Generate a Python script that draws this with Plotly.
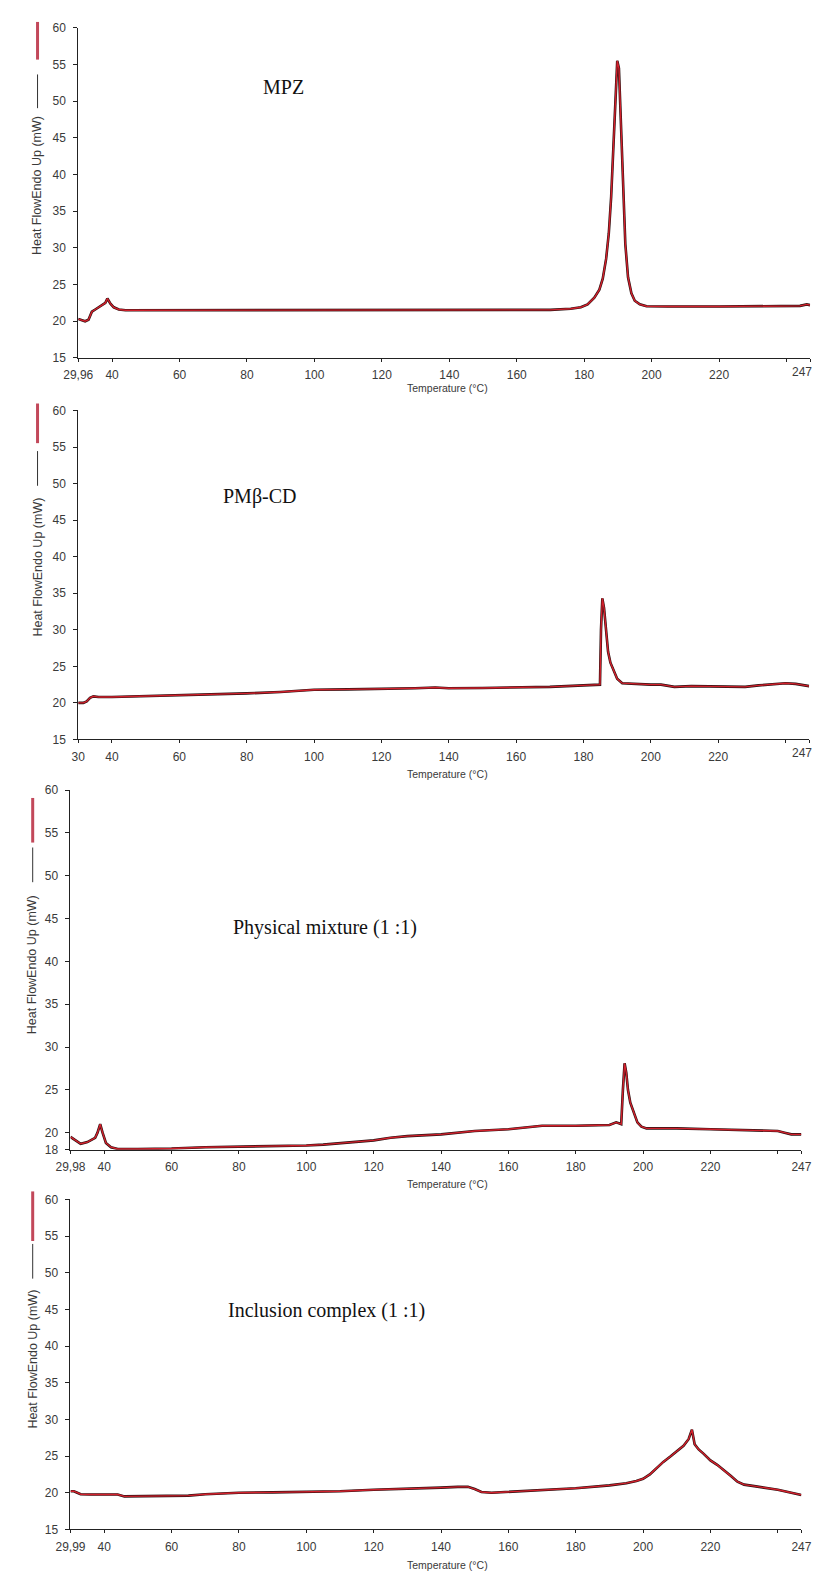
import plotly.graph_objects as go

# page is 824x1579; the browser's default 8px body margin offsets the figure
PAGE_W, PAGE_H = 824, 1579
OFF = 8
W, H = PAGE_W - OFF, PAGE_H - OFF

# ---------------- data ----------------
mpz_T = [29.96, 31, 32, 33, 34, 35, 36, 37, 38, 38.6, 39.5, 40.5, 42, 44, 60, 80, 100, 120, 140, 160, 170,
         176, 179, 181, 183, 184.5, 185.5, 186.5, 187.3, 188, 188.7, 189.3, 189.8, 190.3, 190.9, 191.5,
         192.2, 193, 194, 195, 196.5, 198.5, 205, 220, 240, 244, 246, 247]
mpz_V = [20.3, 20.2, 20.0, 20.2, 21.3, 21.6, 21.9, 22.2, 22.5, 23.1, 22.4, 21.9, 21.6, 21.5, 21.5, 21.5,
         21.5, 21.5, 21.5, 21.5, 21.55, 21.7, 21.9, 22.3, 23.2, 24.3, 25.8, 28.5, 32, 37, 44, 51, 55.5,
         54.5, 47, 38, 30.5, 26, 23.8, 22.8, 22.3, 22.05, 22.0, 22.0, 22.0, 22.1, 22.3, 22.2]

pm_T = [30, 31.5, 32.5, 33.5, 34.5, 36, 40, 50, 60, 70, 80, 90, 100, 110, 120, 130, 136, 140, 150, 160,
        170, 180, 184.9, 185.2, 185.6, 186.1, 186.7, 187.3, 188, 189, 190, 191.5, 195, 200, 203, 207,
        212, 220, 228, 232, 236, 240, 243, 247]
pm_V = [20.0, 20.0, 20.2, 20.7, 20.9, 20.8, 20.8, 20.9, 21.0, 21.1, 21.3, 21.5, 21.8, 21.85, 21.9, 22.0,
        22.1, 22.0, 22.05, 22.1, 22.2, 22.4, 22.5, 30, 34.3, 33.0, 29.5, 27.0, 25.5, 24.3, 23.3, 22.7,
        22.6, 22.5, 22.5, 22.2, 22.3, 22.2, 22.2, 22.4, 22.6, 22.7, 22.6, 22.3]

phy_T = [29.98, 31, 33, 35, 37.3, 38, 38.8, 39.5, 40.5, 42, 44, 50, 60, 70, 80, 90, 100, 105, 110, 115,
         120, 125, 130, 140, 150, 160, 165, 170, 180, 185, 190, 192, 193.5, 194.0, 194.5, 195.0, 195.5,
         196.2, 197.2, 198.3, 199.5, 201, 205, 210, 220, 225, 230, 235, 240, 242, 244, 247]
phy_V = [19.5, 19.2, 18.7, 18.9, 19.4, 20.0, 21.0, 20.0, 18.8, 18.3, 18.1, 18.1, 18.15, 18.3, 18.35,
         18.4, 18.5, 18.6, 18.75, 18.9, 19.1, 19.4, 19.6, 19.8, 20.2, 20.4, 20.6, 20.8, 20.8, 20.85,
         20.9, 21.2, 21.0, 25.0, 28.1, 27.0, 25.0, 23.5, 22.5, 21.2, 20.7, 20.5, 20.5, 20.5, 20.4,
         20.35, 20.3, 20.2, 20.2, 20.0, 19.8, 19.8]

inc_T = [29.99, 31, 32, 33, 36, 40, 44, 46, 50, 60, 65, 70, 75, 80, 90, 100, 110, 120, 130, 140, 145,
         148, 150, 152, 155, 160, 170, 180, 190, 195, 198, 200, 202, 204, 206, 208, 210, 212, 213.5,
         214.5, 215.3, 216.5, 218, 220, 222, 224, 226, 228, 230, 233, 236, 240, 243, 247]
inc_V = [20.2, 20.2, 20.0, 19.8, 19.75, 19.75, 19.75, 19.5, 19.5, 19.5, 19.6, 19.8, 19.9, 20.0, 20.05,
         20.1, 20.2, 20.4, 20.5, 20.7, 20.8, 20.8, 20.5, 20.1, 20.0, 20.1, 20.3, 20.6, 21.0, 21.3, 21.6,
         21.9, 22.5, 23.4, 24.2, 24.9, 25.6, 26.4, 27.3, 28.6, 26.6, 25.9, 25.3, 24.4, 23.8, 23.1, 22.3,
         21.5, 21.1, 20.9, 20.7, 20.4, 20.1, 19.7]

panel_labels = ["MPZ", "PMβ-CD", "Physical mixture (1 :1)", "Inclusion complex (1 :1)"]
x_start = [29.96, 30, 29.98, 29.99]
x_start_text = ["29,96", "30", "29,98", "29,99"]
x_mid_ticks = [40, 60, 80, 100, 120, 140, 160, 180, 200, 220, 240]
x_end = 247
y_ranges = [[15, 60], [15, 60], [18, 60], [15, 60]]
y_ticks = [[15, 20, 25, 30, 35, 40, 45, 50, 55, 60],
           [15, 20, 25, 30, 35, 40, 45, 50, 55, 60],
           [18, 20, 25, 30, 35, 40, 45, 50, 55, 60],
           [15, 20, 25, 30, 35, 40, 45, 50, 55, 60]]
y_title = "Heat FlowEndo Up (mW)"
x_title = "Temperature (°C)"

series = [(mpz_T, mpz_V), (pm_T, pm_V), (phy_T, phy_V), (inc_T, inc_V)]

# ---------------- layout geometry (page pixels) ----------------
plot_px = [  # left, right, top, bottom
    (65, 820, 21, 354),
    (65, 819, 407, 739),
    (57, 811, 790, 1153),
    (57, 811, 1203, 1536),
]
label_pos = [(277, 81), (253, 494), (320, 929), (321, 1315)]
ytitle_pos = [(23, 180), (23, 565), (18, 966), (18, 1364)]
red_seg = [(15, 53), (400, 440), (798, 843), (1195, 1245)]
blk_seg = [(68, 102), (448, 483), (848, 883), (1248, 1283)]
xtitle_pos = [(446, 384), (446, 774), (446, 1188), (446, 1572)]
end_label_inside = [True, True, False, False]   # "247" label pinned to the right edge


def px(x):
    return (x - OFF) / W


def py(y):
    return 1 - (y - OFF) / H


fig = go.Figure()
tick_font = dict(family="Liberation Sans, Arial, sans-serif", size=12, color="#3a3a3a")

layout = dict(
    width=W, height=H, margin=dict(l=0, r=0, t=0, b=0),
    paper_bgcolor="white", plot_bgcolor="white", showlegend=False,
)
annotations = []
shapes = []

for i in range(4):
    T, V = series[i]
    xa = "x" if i == 0 else f"x{i+1}"
    ya = "y" if i == 0 else f"y{i+1}"
    fig.add_trace(go.Scatter(x=T, y=V, mode="lines", xaxis=xa, yaxis=ya,
                             line=dict(color="#2a1010", width=2.6), hoverinfo="skip"))
    fig.add_trace(go.Scatter(x=T, y=V, mode="lines", xaxis=xa, yaxis=ya,
                             line=dict(color="#d3202c", width=1.4), hoverinfo="skip"))
    l, r, t, b = plot_px[i]
    xkey = "xaxis" if i == 0 else f"xaxis{i+1}"
    ykey = "yaxis" if i == 0 else f"yaxis{i+1}"
    xt = [x_start[i]] + x_mid_ticks + [x_end]
    end_txt = "" if end_label_inside[i] else str(x_end)
    xtt = [x_start_text[i]] + [str(v) if v != 240 else "" for v in x_mid_ticks] + [end_txt]
    layout[xkey] = dict(domain=[px(l), px(r)], range=[x_start[i], x_end], anchor=ya,
                        showline=True, linecolor="#222", linewidth=1, showgrid=False, zeroline=False,
                        ticks="outside", ticklen=3, tickcolor="#222", tickmode="array",
                        tickvals=xt, ticktext=xtt, tickfont=tick_font, ticklabelstandoff=3)
    layout[ykey] = dict(domain=[py(b), py(t)], range=y_ranges[i], anchor=xa,
                        showline=True, linecolor="#222", linewidth=1, showgrid=False, zeroline=False,
                        ticks="outside", ticklen=4, tickcolor="#222", tickmode="array",
                        tickvals=y_ticks[i], ticktext=[str(v) for v in y_ticks[i]],
                        tickfont=tick_font, ticklabelstandoff=5)
    if end_label_inside[i]:
        annotations.append(dict(x=1.0, y=py(b + 14), xref="paper", yref="paper", text=str(x_end),
                                showarrow=False, xanchor="right", yanchor="middle", font=tick_font))
    lx, ly = label_pos[i]
    annotations.append(dict(x=px(lx), y=py(ly), xref="paper", yref="paper", text=panel_labels[i],
                            showarrow=False, xanchor="center", yanchor="middle",
                            font=dict(family="Liberation Serif, Times New Roman, serif", size=20,
                                      color="#111")))
    tx, ty = ytitle_pos[i]
    annotations.append(dict(x=px(tx), y=py(ty), xref="paper", yref="paper", text=y_title,
                            showarrow=False, textangle=-90, xanchor="center", yanchor="middle",
                            font=dict(family="Liberation Sans, Arial, sans-serif", size=12.5,
                                      color="#3a3a3a")))
    qx, qy = xtitle_pos[i]
    annotations.append(dict(x=px(qx), y=py(qy), xref="paper", yref="paper", text=x_title,
                            showarrow=False, xanchor="center", yanchor="middle",
                            font=dict(family="Liberation Sans, Arial, sans-serif", size=10.5,
                                      color="#3a3a3a")))
    shapes.append(dict(type="line", xref="paper", yref="paper", x0=px(tx), x1=px(tx),
                       y0=py(red_seg[i][0]), y1=py(red_seg[i][1]),
                       line=dict(color="#c2485a", width=3)))
    shapes.append(dict(type="line", xref="paper", yref="paper", x0=px(tx), x1=px(tx),
                       y0=py(blk_seg[i][0]), y1=py(blk_seg[i][1]),
                       line=dict(color="#333", width=1)))

layout["annotations"] = annotations
layout["shapes"] = shapes
fig.update_layout(**layout)
fig.write_html("out.html")
